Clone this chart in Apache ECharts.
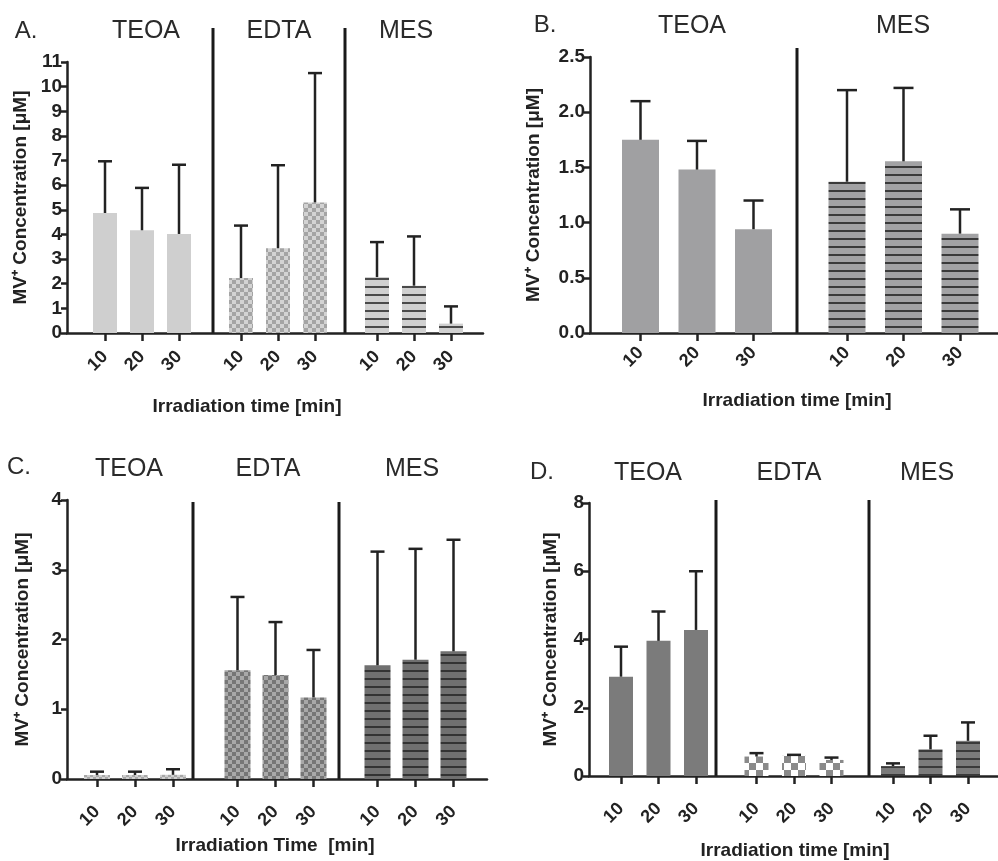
<!DOCTYPE html>
<html>
<head>
<meta charset="utf-8">
<script src="https://cdn.jsdelivr.net/npm/echarts@6/dist/echarts.min.js"></script>
<style>html,body{margin:0;padding:0;background:#fff}#c{width:998px;height:861px}</style>
</head>
<body>
<div id="c"></div>
<script>
// ---------- data ----------
const timeCats = ['10', '20', '30'];
// Panel A
const A_TEOA = [4.87, 4.17, 4.02];  const A_TEOA_sd = [2.10, 1.72, 2.81];
const A_EDTA = [2.23, 3.44, 5.30];  const A_EDTA_sd = [2.13, 3.37, 5.25];
const A_MES  = [2.27, 1.92, 0.38];  const A_MES_sd  = [1.42, 2.00, 0.70];
// Panel B
const B_TEOA = [1.75, 1.48, 0.94];  const B_TEOA_sd = [0.35, 0.26, 0.26];
const B_MES  = [1.37, 1.555, 0.90]; const B_MES_sd  = [0.83, 0.665, 0.22];
// Panel C
const C_TEOA = [0.057, 0.057, 0.06]; const C_TEOA_sd = [0.048, 0.048, 0.08];
const C_EDTA = [1.56, 1.49, 1.17];  const C_EDTA_sd = [1.05, 0.76, 0.68];
const C_MES  = [1.63, 1.71, 1.83];  const C_MES_sd  = [1.63, 1.59, 1.60];
// Panel D
const D_TEOA = [2.91, 3.96, 4.28];  const D_TEOA_sd = [0.88, 0.86, 1.72];
const D_EDTA = [0.57, 0.59, 0.47];  const D_EDTA_sd = [0.10, 0.03, 0.07];
const D_MES  = [0.29, 0.78, 1.03];  const D_MES_sd  = [0.08, 0.40, 0.54];

const yNameText = 'MV\u207A Concentration [\u03BCM]';
const FONT = "'Liberation Sans', Arial, Helvetica, sans-serif";
const INK = '#222';

// ---------- fills ----------
function checker(c1, c2, s) {
  const cv = document.createElement('canvas');
  cv.width = cv.height = 2 * s;
  const g = cv.getContext('2d');
  g.fillStyle = c1; g.fillRect(0, 0, 2 * s, 2 * s);
  g.fillStyle = c2; g.fillRect(0, 0, s, s); g.fillRect(s, s, s, s);
  return { image: cv, repeat: 'repeat' };
}
function stripes(bg, line, period, th) {
  const cv = document.createElement('canvas');
  cv.width = 4; cv.height = period;
  const g = cv.getContext('2d');
  g.fillStyle = bg; g.fillRect(0, 0, 4, period);
  g.fillStyle = line; g.fillRect(0, period - th, 4, th);
  return { image: cv, repeat: 'repeat' };
}

// ---------- layout ----------
const panels = [
  { letter: 'A.', letterPos: [26, 31], yMin: 0, yMax: 11, yInt: 1, dec: 0,
    axisX: 67, axisEnd: 483, yTop: 62, y0: 333, step: 37, barW: 24, cap: 7,
    yNameGap: 37, labelMargin: 21, groupLabelY: 31,
    dividers: [213, 345], divTop: 28,
    xTitle: 'Irradiation time [min]', xTitlePos: [247, 407],
    groups: [
      { name: 'TEOA', vals: A_TEOA, sd: A_TEOA_sd, center: 142, labelX: 146, fill: '#cfcfcf' },
      { name: 'EDTA', vals: A_EDTA, sd: A_EDTA_sd, center: 278, labelX: 279, fill: checker('#d3d3d3', '#a4a4a4', 4) },
      { name: 'MES',  vals: A_MES,  sd: A_MES_sd,  center: 414, labelX: 406, fill: stripes('#d0d0d0', '#4a4a4a', 8, 2) }
    ] },
  { letter: 'B.', letterPos: [545, 25], yMin: 0, yMax: 2.5, yInt: 0.5, dec: 1,
    axisX: 590, axisEnd: 998, yTop: 57, y0: 333, step: 56.5, barW: 37, cap: 10,
    yNameGap: 47, labelMargin: 17, groupLabelY: 26,
    dividers: [797], divTop: 48,
    xTitle: 'Irradiation time [min]', xTitlePos: [797, 401],
    groups: [
      { name: 'TEOA', vals: B_TEOA, sd: B_TEOA_sd, center: 697, labelX: 692, fill: '#a0a0a2' },
      { name: 'MES',  vals: B_MES,  sd: B_MES_sd,  center: 903.5, labelX: 903, fill: stripes('#a2a2a4', '#3a3a3a', 8, 2) }
    ] },
  { letter: 'C.', letterPos: [19, 467], yMin: 0, yMax: 4, yInt: 1, dec: 0,
    axisX: 67, axisEnd: 487, yTop: 500, y0: 779, step: 38, barW: 26, cap: 7,
    yNameGap: 35, labelMargin: 30, groupLabelY: 469,
    dividers: [193, 339], divTop: 502,
    xTitle: 'Irradiation Time  [min]', xTitlePos: [275, 846],
    groups: [
      { name: 'TEOA', vals: C_TEOA, sd: C_TEOA_sd, center: 135, labelX: 129, fill: checker('#cfcfcf', '#a8a8a8', 3) },
      { name: 'EDTA', vals: C_EDTA, sd: C_EDTA_sd, center: 275.5, labelX: 268, fill: checker('#a8a8a8', '#767676', 4) },
      { name: 'MES',  vals: C_MES,  sd: C_MES_sd,  center: 415.5, labelX: 412, fill: stripes('#707070', '#333333', 8, 2) }
    ] },
  { letter: 'D.', letterPos: [542, 472], yMin: 0, yMax: 8, yInt: 2, dec: 0,
    axisX: 589, axisEnd: 998, yTop: 503, y0: 776, step: 37.5, barW: 24, cap: 7,
    yNameGap: 29, labelMargin: 30, groupLabelY: 473,
    dividers: [716, 869], divTop: 500,
    xTitle: 'Irradiation time [min]', xTitlePos: [795, 851],
    groups: [
      { name: 'TEOA', vals: D_TEOA, sd: D_TEOA_sd, center: 658.5, labelX: 648, fill: '#7b7b7b' },
      { name: 'EDTA', vals: D_EDTA, sd: D_EDTA_sd, center: 794, labelX: 789, fill: checker('#ffffff', '#8a8a8a', 7) },
      { name: 'MES',  vals: D_MES,  sd: D_MES_sd,  center: 930.5, labelX: 927, fill: stripes('#7b7b7b', '#3a3a3a', 8, 2) }
    ] }
];

// ---------- build option ----------
const W = 998, H = 861;
const grid = [], xAxis = [], yAxis = [], series = [], graphic = [];
const lineStyle = { color: INK, width: 2.5 };

function errRender(cap) {
  return function (params, api) {
    const b = api.coord([api.value(0), api.value(1)]);
    const t = api.coord([api.value(0), api.value(2)]);
    const st = { stroke: INK, lineWidth: 2.5 };
    return { type: 'group', children: [
      { type: 'line', shape: { x1: b[0], y1: b[1], x2: t[0], y2: t[1] }, style: st },
      { type: 'line', shape: { x1: t[0] - cap, y1: t[1], x2: t[0] + cap, y2: t[1] }, style: st }
    ] };
  };
}

panels.forEach(p => {
  const gi = grid.length;
  grid.push({ left: p.axisX, right: W - p.axisEnd, top: p.yTop, bottom: H - p.y0, containLabel: false });
  xAxis.push({ gridIndex: gi, type: 'category', data: [''], axisLine: { show: true, lineStyle },
    axisTick: { show: false }, axisLabel: { show: false }, splitLine: { show: false } });
  yAxis.push({ gridIndex: gi, type: 'value', min: p.yMin, max: p.yMax, interval: p.yInt,
    axisLine: { show: true, lineStyle }, axisTick: { show: true, length: 6, lineStyle },
    splitLine: { show: false },
    axisLabel: { color: INK, fontSize: 19, fontWeight: 'bold', fontFamily: FONT, margin: 5,
      formatter: v => Number(v).toFixed(p.dec) },
    name: yNameText, nameLocation: 'middle', nameGap: p.yNameGap,
    nameTextStyle: { color: INK, fontSize: 19, fontWeight: 'bold', fontFamily: FONT } });

  p.groups.forEach(g => {
    const k = grid.length;
    grid.push({ left: g.center - 1.5 * p.step, width: 3 * p.step, top: p.yTop, bottom: H - p.y0, containLabel: false });
    xAxis.push({ gridIndex: k, type: 'category', data: timeCats,
      axisLine: { show: false }, splitLine: { show: false },
      axisTick: { show: true, alignWithLabel: true, length: 8, lineStyle },
      axisLabel: { rotate: 45, margin: p.labelMargin, color: INK, fontSize: 18, fontWeight: 'bold', fontFamily: FONT } });
    yAxis.push({ gridIndex: k, type: 'value', min: p.yMin, max: p.yMax, show: false });
    series.push({ type: 'bar', xAxisIndex: k, yAxisIndex: k, data: g.vals, barWidth: p.barW,
      itemStyle: { color: g.fill }, z: 2, silent: true });
    series.push({ type: 'custom', xAxisIndex: k, yAxisIndex: k, z: 3, silent: true,
      data: g.vals.map((v, i) => [i, v, v + g.sd[i]]),
      renderItem: errRender(p.cap) });
    graphic.push({ type: 'text', x: g.labelX, y: p.groupLabelY,
      style: { text: g.name, font: '25px ' + FONT, fill: '#2a2a2a', align: 'center', verticalAlign: 'middle',
        textAlign: 'center', textVerticalAlign: 'middle' } });
  });

  graphic.push({ type: 'text', x: p.letterPos[0], y: p.letterPos[1],
    style: { text: p.letter, font: '24px ' + FONT, fill: '#2a2a2a', align: 'center', verticalAlign: 'middle',
      textAlign: 'center', textVerticalAlign: 'middle' } });
  graphic.push({ type: 'text', x: p.xTitlePos[0], y: p.xTitlePos[1],
    style: { text: p.xTitle, font: 'bold 19px ' + FONT, fill: INK, align: 'center', verticalAlign: 'middle',
      textAlign: 'center', textVerticalAlign: 'middle' } });
  p.dividers.forEach(dx => {
    graphic.push({ type: 'line', shape: { x1: dx, y1: p.divTop, x2: dx, y2: p.y0 },
      style: { stroke: '#1a1a1a', lineWidth: 3 } });
  });
});

const chart = echarts.init(document.getElementById('c'), null, { renderer: 'canvas' });
chart.setOption({ animation: false, backgroundColor: '#fff', grid, xAxis, yAxis, series, graphic });
</script>
</body>
</html>
